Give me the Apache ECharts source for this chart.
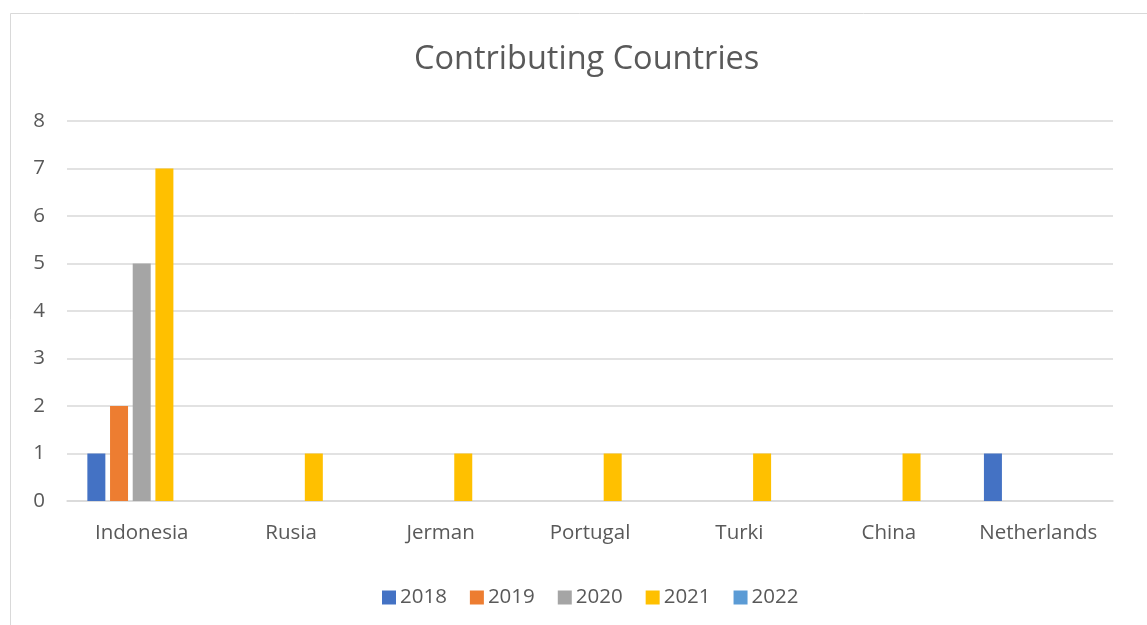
<!DOCTYPE html>
<html>
<head>
<meta charset="utf-8">
<script src="https://cdn.jsdelivr.net/npm/echarts@6/dist/echarts.min.js"></script>
<style>
  html, body { margin: 0; padding: 0; background: #fff; }
  #main { width: 1147px; height: 625px; }
</style>
</head>
<body>
<div id="main"></div>
<script>
const countries = ['Indonesia', 'Rusia', 'Jerman', 'Portugal', 'Turki', 'China', 'Netherlands'];
const years = ['2018', '2019', '2020', '2021', '2022'];
const v2018 = [1, 0, 0, 0, 0, 0, 1];
const v2019 = [2, 0, 0, 0, 0, 0, 0];
const v2020 = [5, 0, 0, 0, 0, 0, 0];
const v2021 = [7, 1, 1, 1, 1, 1, 0];
const v2022 = [0, 0, 0, 0, 0, 0, 0];
const colors = ['#4472C4', '#ED7D31', '#A5A5A5', '#FFC000', '#5B9BD5'];

const seriesValues = [v2018, v2019, v2020, v2021, v2022];
const font = '"Open Sans", "Noto Sans", sans-serif';

let chart = echarts.init(document.getElementById('main'));

chart.setOption({
  backgroundColor: '#ffffff',
  animation: false,
  color: colors,
  graphic: [{
    type: 'rect',
    shape: { x: 10.5, y: 13.5, width: 1200, height: 700 },
    style: { fill: 'none', stroke: '#d9d9d9', lineWidth: 1 },
    silent: true
  }],
  title: {
    text: 'Contributing Countries',
    left: 409,
    top: 38,
    textStyle: { fontFamily: font, fontSize: 32.5, fontWeight: 'normal', color: '#595959' }
  },
  legend: {
    bottom: 12,
    left: 377,
    itemWidth: 14,
    itemHeight: 14,
    itemGap: 23,
    icon: 'rect',
    textStyle: { fontFamily: font, fontSize: 20.5, color: '#595959', padding: [0, 0, 0, -1] },
    data: years
  },
  grid: { left: 67, right: 34, top: 121, bottom: 124, containLabel: false },
  xAxis: {
    type: 'category',
    data: countries,
    axisLine: { lineStyle: { color: '#d9d9d9', width: 1.5 } },
    axisTick: { show: false },
    axisLabel: { interval: 0, fontFamily: font, fontSize: 20.5, color: '#595959', margin: 22 }
  },
  yAxis: {
    type: 'value',
    min: 0,
    max: 8,
    interval: 1,
    axisLine: { show: false },
    axisTick: { show: false },
    splitLine: { lineStyle: { color: '#d9d9d9', width: 1.5 } },
    axisLabel: { fontFamily: font, fontSize: 20.5, color: '#595959', margin: 22 }
  },
  series: years.map((y, i) => ({
    name: y,
    type: 'bar',
    data: seriesValues[i],
    barWidth: 18,
    barGap: '26%',
    itemStyle: { color: colors[i] }
  }))
});
</script>
</body>
</html>
